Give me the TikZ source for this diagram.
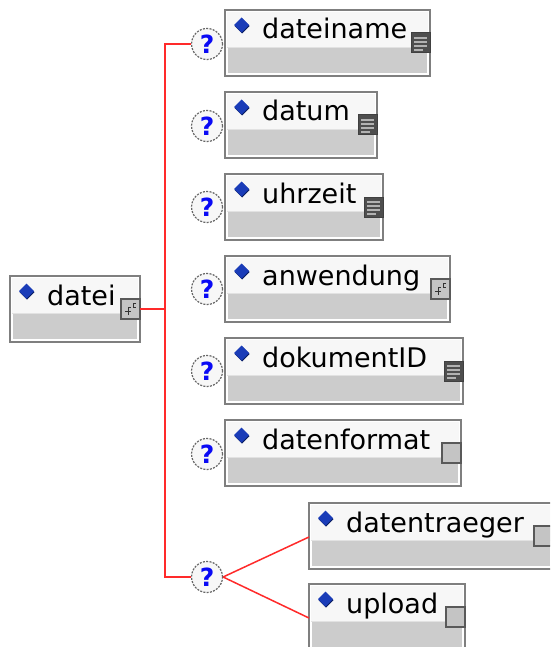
\documentclass[tikz,border=0pt]{standalone}
\usepackage{fontspec}
\setmainfont{DejaVu Sans}
\definecolor{boxborder}{HTML}{7F7F7F}
\definecolor{hdrc}{HTML}{F7F7F7}
\definecolor{bodyc}{HTML}{CCCCCC}
\definecolor{sepc}{HTML}{E2E2E2}
\definecolor{diac}{HTML}{1A3CB8}
\definecolor{diadark}{HTML}{0A1E60}
\definecolor{conc}{HTML}{FF2A2A}
\definecolor{qblue}{HTML}{0A0AF5}
\definecolor{icodarkc}{HTML}{4E4E4E}
\definecolor{icolightc}{HTML}{C4C4C4}
\tikzset{
  elbox/.style={rectangle, draw=boxborder, line width=1.5pt, fill=white, minimum height=66pt, inner sep=0pt, outer sep=0pt},
  hdrfill/.style={fill=hdrc},
  bodyfill/.style={fill=bodyc},
  sepline/.style={draw=sepc, line width=1pt},
  diafill/.style={fill=diac},
  lbl/.style={anchor=base west, inner sep=0pt, font=\fontsize{27}{27}\selectfont},
  qcirc/.style={circle, minimum size=31pt, inner sep=0pt, draw=black!60, line width=1.2pt, dash pattern=on 2pt off 1.3pt, fill=white!94!gray, text=qblue, font=\bfseries\fontsize{25}{25}\selectfont},
  conn/.style={draw=conc, line width=1.5pt},
  icodark/.style={fill=icodarkc, draw=black!75, line width=1pt},
  icolight/.style={fill=icolightc, draw=black!65, line width=1.2pt},
  icoline/.style={draw=black!30, line width=1.4pt},
}
\newcommand\iconbox[3]{\filldraw[#3] ({#1-19},{#2+23}) rectangle (#1,{#2+43});}
\newcommand\icolines[2]{\iconbox{#1}{#2}{icodark}%
  \foreach \dy/\len in {5/13,9/13,13/13,17/9} \draw[icoline] ({#1-16},{#2+23+\dy}) -- ++(\len,0);}
\newcommand\icocomplex[2]{\iconbox{#1}{#2}{icolight}%
  \draw[black!80, line width=0.9pt] ({#1-12},{#2+39}) -- ({#1-12},{#2+31}) -- ({#1-9},{#2+31}) ({#1-15},{#2+35}) -- ({#1-9},{#2+35});
  \draw[black!80, line width=0.8pt] ({#1-4},{#2+27}) -- ({#1-7},{#2+27}) -- ({#1-7},{#2+31}) -- ({#1-4},{#2+31});}
\newcommand\icoplain[2]{\iconbox{#1}{#2}{icolight}}
\newcommand\elembox[6]{%
  \node[elbox, anchor=north west, minimum width={#4-#2}] (#1) at (#2,#3) {};
  \fill[hdrfill] ({#2+2},{#3+2}) rectangle ({#4-2},{#3+37});
  \fill[bodyfill] ({#2+3},{#3+38}) rectangle ({#4-3},{#3+63});
  \draw[sepline] ({#2+2},{#3+37.5}) -- ({#4-2},{#3+37.5});
  \fill[diadark] ({#2+17},{#3+8.5}) -- ({#2+24.5},{#3+16}) -- ({#2+17},{#3+23.5}) -- ({#2+9.5},{#3+16}) -- cycle;
  \fill[diafill] ({#2+16.5},{#3+7.5}) -- ({#2+24},{#3+15}) -- ({#2+16.5},{#3+22.5}) -- ({#2+9},{#3+15}) -- cycle;
  \node[lbl] (#1-t) at ({#2+37},{#3+29}) {#5};
  #6{#4}{#3}}
\begin{document}
\begin{tikzpicture}[x=1pt,y=-1pt]
\useasboundingbox (0,0) rectangle (550,647);
\clip (0,0) rectangle (550,647);
\fill[white] (0,0) rectangle (550,647);
% root
\elembox{datei}{10}{276}{140}{datei}{\icocomplex}
% children
\elembox{dateiname}{225}{10}{430}{dateiname}{\icolines}
\elembox{datum}{225}{92}{377}{datum}{\icolines}
\elembox{uhrzeit}{225}{174}{383}{uhrzeit}{\icolines}
\elembox{anwendung}{225}{256}{450}{anwendung}{\icocomplex}
\elembox{dokumentID}{225}{338}{463}{dokumentID}{\icolines}
\elembox{datenformat}{225}{420}{461}{datenformat}{\icoplain}
\elembox{datentraeger}{309}{503}{553}{datentraeger}{\icoplain}
\elembox{upload}{309}{584}{465}{upload}{\icoplain}
% occurrence symbols
\node[qcirc] (q1) at (207,44) {?};
\node[qcirc] (q2) at (207,126) {?};
\node[qcirc] (q3) at (207,207) {?};
\node[qcirc] (q4) at (207,289) {?};
\node[qcirc] (q5) at (207,371) {?};
\node[qcirc] (q6) at (207,454) {?};
\node[qcirc] (q7) at (207,577) {?};
% connectors
\coordinate (spine) at (165,0);
\draw[conn] (datei.east) -- (datei.east -| spine);
\draw[conn] (q1.west) -- (q1.west -| spine) -- (q7.west -| spine) -- (q7.west);
\draw[conn] (q7.east) -- ([yshift=-34pt]datentraeger.north west);
\draw[conn] (q7.east) -- ([yshift=-34pt]upload.north west);
\end{tikzpicture}
\end{document}
